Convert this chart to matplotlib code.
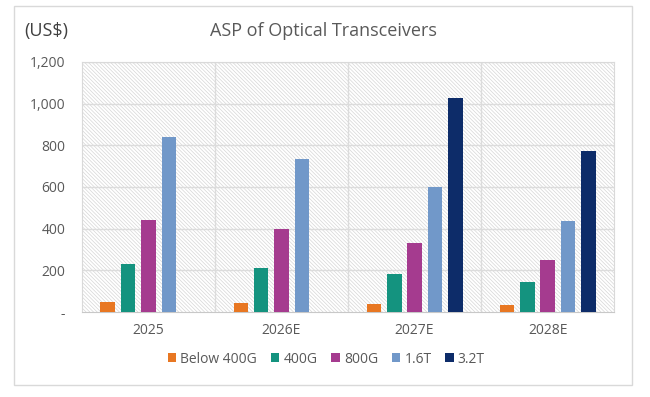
import matplotlib.pyplot as plt
from matplotlib.patches import Rectangle
import numpy as np

years = ['2025', '2026E', '2027E', '2028E']
series = ['Below 400G', '400G', '800G', '1.6T', '3.2T']
below_400g = [50, 45, 40, 35]
g400 = [230, 212, 183, 143]
g800 = [440, 400, 330, 250]
t16 = [840, 735, 602, 435]
t32 = [0, 0, 1025, 772]
values = [below_400g, g400, g800, t16, t32]
colors = ['#E87722', '#14937F', '#A53B8F', '#7198C9', '#0D2C69']
yticks = [0, 200, 400, 600, 800, 1000, 1200]
ytick_labels = ['-', '200', '400', '600', '800', '1,000', '1,200']

plt.rcParams['font.family'] = ['Open Sans', 'DejaVu Sans']
plt.rcParams['hatch.linewidth'] = 0.5
plt.rcParams['hatch.color'] = '#d6d6d6'

fig = plt.figure(figsize=(6.5, 3.97), dpi=100)
fig.patches.append(Rectangle((0.0215, 0.030), 0.951, 0.955, transform=fig.transFigure,
                             fill=False, edgecolor='#d9d9d9', linewidth=1))
ax = fig.add_axes([0.126, 0.214, 0.819, 0.630])

# hatched background
ax.add_patch(Rectangle((0, 0), 1, 1, transform=ax.transAxes, facecolor='white',
                       hatch='\\' * 9, edgecolor='#d6d6d6', linewidth=0, zorder=0))

x = np.arange(len(years))
step = 0.153
width = 0.109
for i, (name, vals) in enumerate(zip(series, values)):
    ax.bar(x + (i - 2) * step, vals, width, color=colors[i], label=name, zorder=3)

ax.set_xlim(-0.5, 3.5)
ax.set_ylim(0, 1200)
ax.set_yticks(yticks)
ax.set_yticklabels(ytick_labels)
ax.set_xticks(x)
ax.set_xticklabels(years)
for v in yticks[1:]:
    ax.axhline(v, color='#dcdcdc', linewidth=1, zorder=1)
for v in [0.5, 1.5, 2.5]:
    ax.axvline(v, color='#dcdcdc', linewidth=1, zorder=1)
for s in ax.spines.values():
    s.set_color('#d9d9d9')
ax.spines['bottom'].set_color('#c8c8c8')
ax.tick_params(length=0, labelsize=10, colors='#595959', pad=8)
ax.tick_params(axis='y', pad=12)

fig.text(0.497, 0.922, 'ASP of Optical Transceivers', ha='center', va='center',
         fontsize=13, color='#595959')
fig.text(0.038, 0.922, '(US$)', ha='left', va='center', fontsize=13, color='#404040')

fig.legend(loc='center', bbox_to_anchor=(0.502, 0.095), ncol=5, frameon=False,
           fontsize=10, labelcolor='#595959', handlelength=0.6, handleheight=0.6,
           handletextpad=0.3, columnspacing=1.0)

fig.savefig('out.png', dpi=100)
